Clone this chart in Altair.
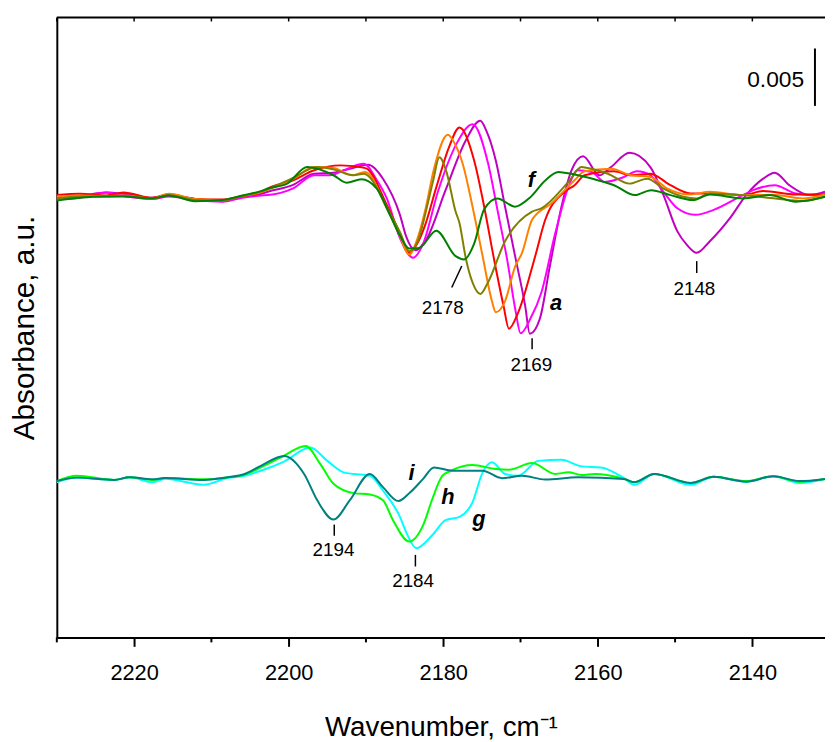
import altair as alt
import pandas as pd

FONT = "Liberation Sans"

# ---------------- data (wavenumber cm-1, absorbance deviation in units of 0.001) -------------
# upper set (a-f)
a_wn = [2230, 2227, 2223.6, 2221, 2217.6, 2215.5, 2212.1, 2208.6, 2206, 2203.5, 2202.7, 2199.5, 2196.7, 2194.2,
        2192.1, 2189.7, 2187.8, 2185.6, 2184.8, 2183.6, 2182.2, 2179.7, 2177.1, 2175.2, 2174.4, 2173.2, 2172.0,
        2170.7, 2169.4, 2168.8, 2167.5, 2166.2, 2164.7, 2163.4, 2161.9, 2159.8, 2158.3, 2155.9, 2153.2, 2151.5,
        2149.7, 2148.5, 2147.2, 2145.5, 2142.9, 2140.8, 2138.6, 2137.1, 2135.2, 2132.6, 2130.6]
a_val = [0.0, 0.15, 0.45, 0.3, 0.0, 0.2, -0.1, -0.3, 0.1, 0.35, 0.52, 1.1, 2.09, 2.18,
         2.53, 2.87, 1.66, -1.49, -3.36, -4.57, -3.65, 0.66, 4.97, 6.70, 5.8, 3.25, -0.78,
         -5.09, -9.40, -11.84, -10.54, -5.95, -0.78, 2.39, 3.62, 1.95, 2.67, 3.91, 2.67, 0.23,
         -2.93, -4.08, -4.80, -3.79, -1.78, 0.23, 1.66, 2.18, 1.09, 0.23, 0.52]

b_wn = [2230, 2227, 2223.6, 2221, 2217.6, 2215.5, 2212.1, 2208.6, 2206, 2203.5, 2202.7, 2199.5, 2196.7, 2194.6,
        2192.9, 2190.3, 2188.6, 2187.3, 2185.6, 2183.9, 2182.6, 2180.7, 2178.2, 2176.2, 2174.2, 2173.0, 2171.7,
        2170.6, 2170.0, 2168.7, 2167.3, 2165.5, 2163.8, 2162.6, 2160.8, 2159.1, 2156.6, 2154.9, 2153.2, 2151.5,
        2149.7, 2147.4, 2145.0, 2141.6, 2139.9, 2137.1, 2134.4, 2131.8, 2130.6]
b_val = [-0.15, 0.0, 0.45, 0.1, -0.1, 0.1, -0.2, -0.35, 0.0, 0.2, 0.23, 0.8, 1.96, 1.96,
         2.39, 2.96, 1.55, -0.06, -3.51, -5.23, -4.0, 0.5, 4.8, 6.41, 3.0, -1.0, -5.5,
         -10.0, -11.81, -10.5, -8.25, -3.08, 0.95, 2.39, 2.24, 1.38, 1.81, 2.30, 1.96, 0.52,
         -0.92, -1.49, -1.06, 0.09, 0.66, 1.09, 0.37, 0.23, 0.37]

c_wn = [2230, 2227, 2223.6, 2221.4, 2217.6, 2215.5, 2212.1, 2208.6, 2206, 2203.5, 2202.7, 2199.5, 2196.7, 2193.3,
        2190.8, 2189.9, 2187.3, 2185.8, 2184.4, 2183.2, 2182.4, 2180.9, 2179.2, 2177.9, 2176.0, 2174.7, 2173.5,
        2172.2, 2171.5, 2170.3, 2168.1, 2166.8, 2164.3, 2163.0, 2161.7, 2157.9, 2155.7, 2153.2, 2150.6, 2148.0,
        2145.5, 2141.2, 2138.6, 2134.4, 2130.6]
c_val = [0.25, 0.35, 0.2, 0.46, 0.0, 0.3, -0.1, -0.15, 0.15, 0.45, 0.8, 1.5, 2.39, 2.82,
         2.67, 2.53, -0.63, -2.8, -4.80, -3.8, -2.5, 0.9, 4.5, 6.12, 3.25, -0.78, -5.09,
         -9.4, -11.41, -10.0, -5.09, -1.92, 0.52, 1.09, 1.96, 2.30, 1.96, 2.09, 1.09, 0.37,
         0.37, 0.23, 0.58, 0.28, 0.28]

d_wn = [2230, 2227, 2223.6, 2221.4, 2217.6, 2215.5, 2212.1, 2208.6, 2206, 2203.5, 2202.7, 2199.5, 2196.7, 2194.2,
        2191.8, 2190.1, 2187.3, 2185.8, 2184.4, 2183.3, 2182.3, 2181.2, 2179.4, 2178.5, 2177.5, 2176.2, 2174.9,
        2173.7, 2173.2, 2172.0, 2170.7, 2169.8, 2168.5, 2166.0, 2163.0, 2161.7, 2158.3, 2155.7, 2153.2, 2151.0,
        2148.0, 2145.5, 2141.2, 2137.0, 2133.5, 2130.6]
d_val = [0.1, 0.2, 0.15, 0.2, -0.05, 0.35, -0.1, -0.2, 0.15, 0.5, 0.7, 1.6, 2.67, 2.59,
         1.96, 2.24, -0.92, -3.0, -4.94, -3.5, -1.0, 2.5, 5.49, 4.7, 3.0, -0.8, -5.1,
         -9.0, -9.97, -9.0, -6.0, -4.80, -1.92, -0.49, 1.53, 2.30, 2.53, 1.96, 1.81, 0.80,
         0.28, 0.52, 0.23, 0.23, -0.06, 0.28]

e_wn = [2230, 2227, 2223.6, 2221.4, 2217.6, 2215.5, 2212.1, 2208.6, 2206, 2203.5, 2202.7, 2199.5, 2196.3, 2194.2,
        2191.6, 2190.3, 2186.9, 2185.6, 2184.4, 2183.3, 2182.0, 2181.3, 2180.5, 2179.6, 2178.4, 2177.9, 2177.1,
        2176.2, 2175.2, 2174.3, 2172.0, 2168.5, 2167.3, 2163.8, 2162.1, 2161.3, 2158.7, 2155.9, 2153.6, 2151.5,
        2148.9, 2147.2, 2145.5, 2141.6, 2137.0, 2133.5, 2130.6]
e_val = [-0.1, 0.1, 0.1, 0.15, -0.1, 0.25, -0.2, -0.25, 0.15, 0.55, 0.75, 1.7, 2.67, 2.47,
         1.96, 2.09, -1.35, -3.0, -4.66, -3.8, -0.5, 1.5, 3.53, 2.3, -1.2, -2.2, -5.2,
         -7.4, -8.39, -7.5, -3.79, -1.21, -0.92, 1.38, 2.67, 2.59, 2.09, 1.23, 1.66, 0.80,
         0.09, -0.06, 0.37, 0.23, -0.06, -0.28, 0.09]

f_wn = [2230, 2227, 2223.6, 2221.4, 2217.6, 2215.5, 2212.1, 2208.6, 2206, 2203.5, 2202.7, 2200.2, 2197.6, 2194.2,
        2192.5, 2190.6, 2188.6, 2186.9, 2185.6, 2184.4, 2183.1, 2180.9, 2178.4, 2177.3, 2176.0, 2174.7, 2173.0,
        2170.7, 2168.8, 2166.8, 2165.1, 2164.3, 2160.0, 2157.9, 2155.2, 2153.1, 2150.6, 2147.7, 2145.5, 2141.2,
        2137.8, 2134.4, 2130.6]
f_val = [-0.25, 0.0, 0.1, 0.1, -0.05, 0.2, -0.3, -0.2, 0.2, 0.6, 0.80, 1.23, 2.67, 1.96,
         1.31, 1.61, 0.80, -1.49, -3.3, -4.42, -4.37, -2.87, -5.09, -5.37, -4.0, -1.0, -0.06,
         -0.78, 0.0, 1.5, 2.24, 2.18, 1.53, 1.09, 0.23, 0.66, 0.23, -0.2, 0.28, -0.06,
         0.23, -0.34, 0.09]

# lower set (g-i)
g_wn = [2230, 2227.4, 2222.6, 2220.6, 2217.6, 2216, 2211, 2207.9, 2205.7, 2203.6, 2200.6, 2197.2, 2195.0, 2192.9,
        2191.6, 2189.5, 2187.8, 2185.6, 2184.7, 2183.5, 2181.4, 2179.7, 2177.9, 2176.2, 2174.9, 2173.7, 2172.0,
        2170.3, 2167.7, 2164.7, 2162.1, 2159.6, 2156.6, 2155.3, 2152.7, 2148.0, 2145.0, 2140.8, 2137.3, 2133.9,
        2130.6]
g_val = [-0.2, 0.2, 0.0, 0.23, -0.2, 0.1, -0.43, 0.17, 0.37, 0.80, 1.6, 2.82, 1.66, 0.66,
         0.52, 0.37, -0.92, -3.22, -4.7, -5.95, -4.80, -3.51, -3.22, -1.93, 0.66, 1.53, 0.52,
         0.37, 1.66, 1.75, 1.18, 1.09, 0.15, -0.43, 0.52, -0.43, 0.28, -0.15, 0.32, -0.26,
         0.09]

h_wn = [2230, 2227.4, 2222.6, 2220.6, 2217.6, 2216, 2211, 2207.9, 2205.7, 2203.6, 2201.0, 2197.8, 2195.9, 2194.2,
        2191.6, 2189.5, 2187.8, 2186.5, 2184.4, 2182.6, 2181.4, 2180.1, 2179.0, 2176.2, 2173.2, 2171.5, 2168.5,
        2165.5, 2163.8, 2162.1, 2160.4, 2156.6, 2155.3, 2152.7, 2148.0, 2145.0, 2140.8, 2137.3, 2133.9, 2130.6]
h_val = [-0.1, 0.37, 0.0, 0.23, 0.0, 0.17, 0.05, 0.23, 0.46, 1.09, 1.96, 2.96, 1.38, -0.34,
         -1.15, -1.27, -1.78, -3.51, -5.37, -3.94, -1.64, 0.37, 0.80, 1.29, 0.95, 0.89, 1.47,
         0.52, 0.66, 0.43, 0.52, 0.09, -0.2, 0.52, -0.26, 0.28, -0.1, 0.32, -0.15, 0.09]

i_wn = [2230, 2227.4, 2222.6, 2220.6, 2217.6, 2216, 2211, 2207.9, 2205.7, 2203.6, 2200.6, 2198.0, 2196.3, 2194.2,
        2192.1, 2189.5, 2187.8, 2185.8, 2184.3, 2182.6, 2181.2, 2178.8, 2174.9, 2172.4, 2169.8, 2166.8, 2162.6,
        2156.6, 2155.3, 2152.7, 2148.0, 2145.0, 2140.8, 2137.3, 2133.9, 2130.6]
i_val = [-0.1, 0.2, 0.0, 0.23, 0.05, 0.17, 0.0, 0.23, 0.52, 1.23, 2.09, 0.52, -1.78, -3.45,
         -1.78, 0.52, -0.63, -1.84, -1.1, 0.09, 1.09, 0.80, 0.80, 0.15, 0.37, 0.03, 0.23,
         0.09, -0.2, 0.52, -0.26, 0.28, -0.15, 0.32, -0.1, 0.09]

series_names = ["a", "b", "c", "d", "e", "f", "g", "h", "i"]
series_wn = [a_wn, b_wn, c_wn, d_wn, e_wn, f_wn, g_wn, h_wn, i_wn]
series_val = [a_val, b_val, c_val, d_val, e_val, f_val, g_val, h_val, i_val]
series_offset = [38.3] * 6 + [13.72] * 3
series_colors = ["#C000C0", "#FF00FF", "#FF0000", "#FF8000", "#808000", "#008000",
                 "#00FFFF", "#00FF00", "#008080"]

# peak annotations (text, wavenumber, absorbance)
peak_text = ["2178", "2169", "2148", "2194", "2184"]
peak_x = [2180.07, 2168.6, 2147.5, 2194.2, 2183.9]
peak_y = [28.72, 23.72, 30.34, 7.62, 4.92]
lead_x = [2178.9, 2168.5, 2147.2, 2194.1, 2183.6]
lead_x2 = [2177.6, 2168.5, 2147.2, 2194.1, 2183.6]
lead_y = [30.48, 25.10, 31.74, 8.86, 6.18]
lead_y2 = [32.35, 26.05, 32.78, 9.83, 7.19]

curve_text = ["a", "f", "i", "h", "g"]
curve_x = [2165.4, 2168.6, 2184.1, 2179.4, 2175.4]
curve_y = [29.13, 39.85, 14.32, 12.22, 10.35]

X_DOMAIN = [2130.6, 2230]
Y_DOMAIN = [0, 54]
major_ticks = [2220, 2200, 2180, 2160, 2140]
minor_ticks = [2230, 2210, 2190, 2170, 2150]
all_ticks = [2230, 2220, 2210, 2200, 2190, 2180, 2170, 2160, 2150, 2140]

# ---------------------------------------------------------------------------------------------
W, H = 775.7, 626
xs = alt.Scale(domain=X_DOMAIN, reverse=True, nice=False, zero=False)
ys = alt.Scale(domain=Y_DOMAIN, nice=False, zero=False)

x_axis = alt.Axis(values=major_ticks, format="d", grid=False, tickSize=9, tickWidth=2,
                  tickColor="black", domainColor="black", domainWidth=2,
                  labelFontSize=22, labelFont=FONT, labelColor="black", labelPadding=16,
                  title="Wavenumber, cm\u207b\u00b9", titleFontSize=28, titleFont=FONT,
                  titleFontWeight="normal", titleColor="black", titlePadding=31)
y_axis = alt.Axis(labels=False, ticks=False, grid=False, domainColor="black", domainWidth=2,
                  title="Absorbance, a.u.", titleFontSize=30, titleFont=FONT,
                  titleFontWeight="normal", titleColor="black", titlePadding=18)


def X(field):
    return alt.X(field, scale=xs, axis=x_axis)


def Y(field):
    return alt.Y(field, scale=ys, axis=y_axis)


layers = []
for name, wn, val, off, col in zip(series_names, series_wn, series_val, series_offset, series_colors):
    assert len(wn) == len(val), name
    df = pd.DataFrame({"wn": wn, "dA": val, "series": name})
    layer = alt.Chart(df).transform_calculate(
        A=f"datum.dA + {off}"
    ).mark_line(color=col, strokeWidth=2, interpolate="monotone").encode(
        x=X("wn:Q"), y=Y("A:Q"), order="wn:Q",
    )
    layers.append(layer)

# top frame line and ticks
top_line = alt.Chart(pd.DataFrame({"x": [X_DOMAIN[1]], "x2": [X_DOMAIN[0]]})).mark_rule(
    color="black", strokeWidth=2).encode(x=X("x:Q"), x2="x2:Q", y=alt.value(0))
top_ticks = alt.Chart(pd.DataFrame({"t": all_ticks})).mark_rule(color="black", strokeWidth=1.5).encode(
    x=X("t:Q"), y=alt.value(0), y2=alt.value(4))
minor = alt.Chart(pd.DataFrame({"t": minor_ticks})).mark_rule(color="black", strokeWidth=2).encode(
    x=X("t:Q"), y=alt.value(H), y2=alt.value(H + 5))

# annotations
ann = pd.DataFrame({"text": peak_text, "x": peak_x, "y": peak_y, "lx": lead_x, "lx2": lead_x2,
                    "ly": lead_y, "ly2": lead_y2})
peak_labels = alt.Chart(ann).mark_text(font=FONT, fontSize=19, color="black",
                                       baseline="middle", align="center").encode(
    x=X("x:Q"), y=Y("y:Q"), text="text:N")
leaders = alt.Chart(ann).mark_rule(color="black", strokeWidth=1.5).encode(
    x=X("lx:Q"), x2="lx2:Q", y=Y("ly:Q"), y2="ly2:Q")

cl = pd.DataFrame({"text": curve_text, "x": curve_x, "y": curve_y})
curve_labels = alt.Chart(cl).mark_text(font=FONT, fontSize=22, fontWeight="bold", fontStyle="italic",
                                       color="black", baseline="middle", align="center").encode(
    x=X("x:Q"), y=Y("y:Q"), text="text:N")

# scale bar 0.005
bar = pd.DataFrame({"x": [2131.9], "y": [46.3], "y2": [51.3]})
scale_bar = alt.Chart(bar).mark_rule(color="black", strokeWidth=2).encode(
    x=X("x:Q"), y=Y("y:Q"), y2="y2:Q")
bar_label = alt.Chart(pd.DataFrame({"x": [2133.3], "y": [48.54], "text": ["0.005"]})).mark_text(
    font=FONT, fontSize=23, color="black", align="right", baseline="middle").encode(
    x=X("x:Q"), y=Y("y:Q"), text="text:N")

chart = alt.layer(*layers, top_line, top_ticks, minor, leaders, peak_labels, curve_labels,
                  scale_bar, bar_label).properties(
    width=W, height=H,
    autosize=alt.AutoSizeParams(type="none"),
    padding={"left": 49.3, "top": 6, "right": 0, "bottom": 102},
).configure_view(strokeWidth=0)

chart.save("out.html", embed_options={"renderer": "svg", "actions": False})
